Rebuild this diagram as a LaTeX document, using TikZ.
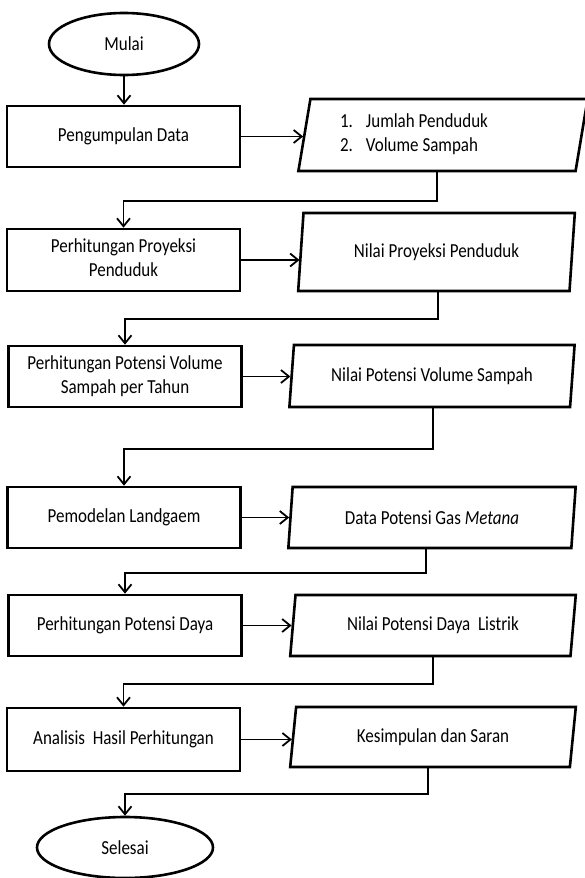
\documentclass[tikz,border=0pt]{standalone}
\usepackage{fontspec}
\setmainfont{Carlito}
\usetikzlibrary{shapes.geometric,arrows.meta,calc}
\newcommand{\talltext}[1]{\scalebox{1}[1.17]{#1}}
\begin{document}
\begin{tikzpicture}[x=1pt,y=-1pt,
 every node/.style={font=\fontsize{17}{20.5}\selectfont, inner sep=0pt},
 proc/.style={draw, line width=2.6pt, minimum width=233pt, minimum height=61pt, align=center},
 io/.style={draw, line width=2.6pt, trapezium, trapezium left angle=79, trapezium right angle=101, trapezium stretches=true, minimum width=286pt, minimum height=61pt, align=center},
 term/.style={draw, line width=2.6pt, ellipse, minimum width=150pt, minimum height=62pt},
 arr/.style={line width=1.8pt, -{Straight Barb[length=8pt,width=13pt]}}]
\useasboundingbox (0,0) rectangle (585,878);
\fill[white] (0,0) rectangle (585,878);
% nodes
\node[term] (start) at (124,44) {\talltext{Mulai}};
\node[proc] (b1) at (123.5,136.5) {\talltext{Pengumpulan Data}};
\node[io, minimum width=290pt, minimum height=72pt] (p1) at (443,135)
  {\talltext{\begin{tabular}{@{}l@{\hspace{13pt}}l@{}}1. & Jumlah Penduduk\\ 2. & Volume Sampah\end{tabular}}\hspace*{58pt}};
\node[proc, minimum height=62pt] (b2) at (123.5,260) {\talltext{\begin{tabular}{@{}c@{}}Perhitungan Proyeksi\\Penduduk\end{tabular}}};
\node[io, minimum width=277pt, minimum height=78pt] (p2) at (436.5,252) {\talltext{Nilai Proyeksi Penduduk}};
\node[proc] (b3) at (125,376.5) {\talltext{\begin{tabular}{@{}c@{}}Perhitungan Potensi Volume\\Sampah per Tahun\end{tabular}}};
\node[io, minimum height=62pt] (p3) at (432,376) {\talltext{Nilai Potensi Volume Sampah}};
\node[proc] (b4) at (124,517.5) {\talltext{Pemodelan Landgaem}};
\node[io, minimum width=288pt] (p4) at (432,517.5) {\talltext{Data Potensi Gas \textit{Metana}}};
\node[proc] (b5) at (125,625.5) {\talltext{Perhitungan Potensi Daya}};
\node[io] (p5) at (433,625.5) {\talltext{Nilai Potensi Daya\ \ Listrik}};
\node[proc, minimum height=63pt] (b6) at (123.5,739.5) {\talltext{Analisis\ \ Hasil Perhitungan}};
\node[io, minimum height=60pt] (p6) at (433,737) {\talltext{Kesimpulan dan Saran}};
\node[term, minimum width=176pt, minimum height=61pt] (end) at (125,847.5) {\talltext{Selesai}};
% connectors
\draw[arr] (start.south) -- (start.south |- b1.north);
\draw[arr] (b1.east) -- (b1.east -| p1.west);
\draw[arr] ([xshift=-6pt]p1.south) -- ++(0,29) -| (b2.north);
\draw[arr] (b2.east) -- (b2.east -| p2.west);
\draw[arr] ([xshift=1.5pt]p2.south) -- ++(0,27) -| (b3.north);
\draw[arr] (b3.east) -- (b3.east -| p3.west);
\draw[arr] ([xshift=1pt]p3.south) -- ++(0,40.5) -| (b4.north);
\draw[arr] (b4.east) -- (b4.east -| p4.west);
\draw[arr] ([xshift=-6pt]p4.south) -- ++(0,24) -| (b5.north);
\draw[arr] (b5.east) -- (b5.east -| p5.west);
\draw[arr] (p5.south) -- ++(0,27) -| (b6.north);
\draw[arr] (b6.east) -- (b6.east -| p6.west);
\draw[arr] ([xshift=-5pt]p6.south) -- ++(0,26) -| (end.north);
\end{tikzpicture}
\end{document}
